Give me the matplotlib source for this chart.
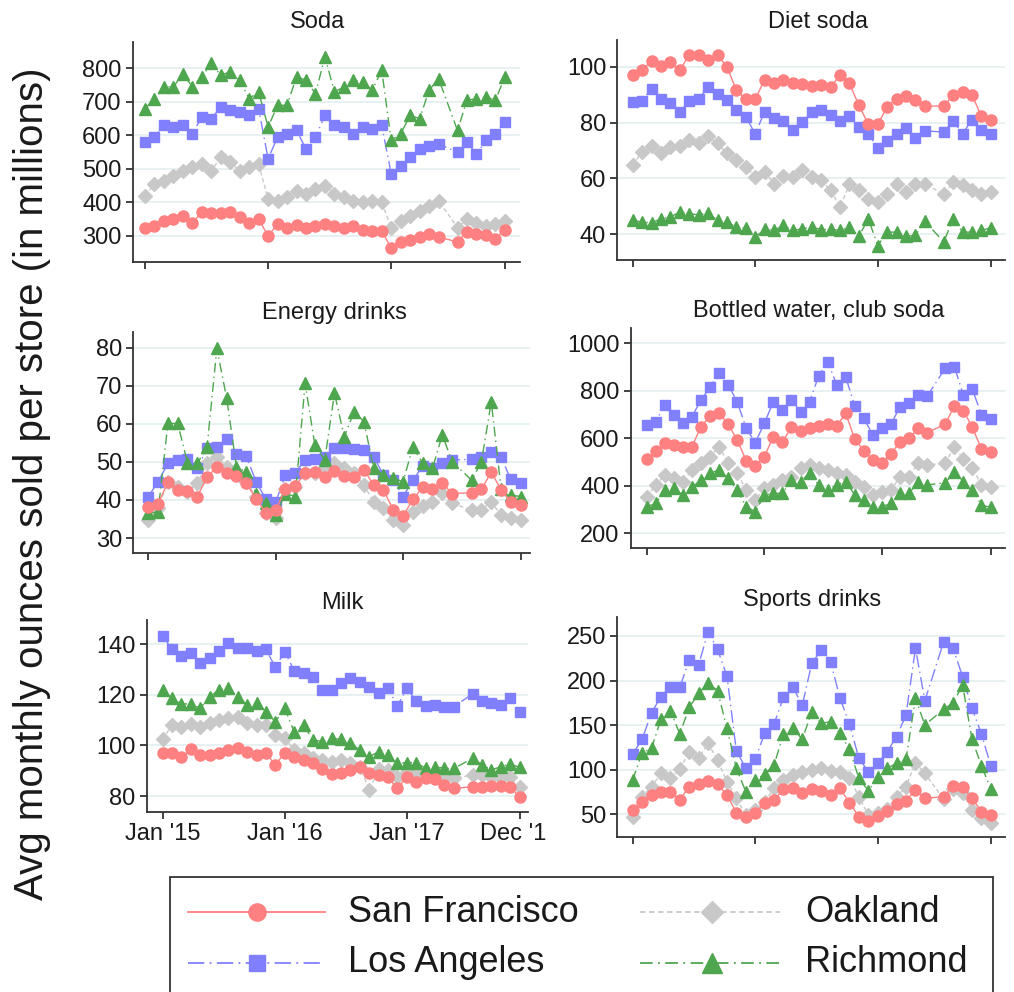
import numpy as np
import matplotlib
matplotlib.use('Agg')
import matplotlib.pyplot as plt
from matplotlib.lines import Line2D
from matplotlib.patches import Rectangle
from matplotlib.transforms import Bbox

nan = np.nan

# ---------------- data ----------------
cities = ["San Francisco", "Los Angeles", "Oakland", "Richmond"]
panel_titles = ["Soda", "Diet soda", "Energy drinks", "Bottled water, club soda", "Milk", "Sports drinks"]
tick_positions = [0, 13, 26, 38]
tick_labels = ["Jan '15", "Jan '16", "Jan '17", "Dec '17"]
periods = np.arange(39)  # 13 four-week periods per year, 2015-2017

soda_sf = [325,330,345,350,360,340,370,367,367,370,355,340,350,
           300,335,325,332,325,330,335,330,325,330,318,315,315,
           263,282,289,297,307,297,nan,282,312,307,302,292,319]
soda_la = [580,595,630,625,630,605,655,650,685,675,670,660,680,
           530,595,605,615,560,595,660,630,625,605,625,620,630,
           485,510,535,560,570,575,nan,550,580,545,585,605,640]
soda_oak = [420,455,465,480,495,505,515,495,535,520,495,505,515,
            410,405,415,435,425,440,450,425,415,405,400,405,400,
            325,345,360,375,390,405,nan,325,350,340,330,335,345]
soda_rich = [680,710,745,745,785,745,775,815,780,790,765,710,730,
             625,690,690,775,765,725,835,730,745,765,760,735,795,
             585,605,660,650,735,770,nan,615,705,710,715,705,775]

diet_sf = [97,98.8,102.2,100.2,101.8,98.8,104.2,104.2,102.6,104.2,100,91.6,88.3,
           88.3,95.4,94,95.2,94,93.7,93,93.4,92.6,97,94,86.2,79.4,
           79.4,85.6,88.6,89.5,88,85.9,nan,85.9,89.8,91,89.8,82.3,81]
diet_la = [87.4,87.8,92.2,88.6,87,83.8,87.7,88.6,92.6,90.4,88,84.4,82,
           76,83.8,81.8,80.6,77.2,80.2,83.8,84.4,82.6,80.6,82.3,78.4,75.8,
           71,73.4,76,78.2,74.3,77,nan,76.6,80.6,76,81,77.5,76]
diet_oak = [64.7,69.5,71.5,68.9,71.3,71.5,73.7,72.5,75.1,72.5,68.9,66.5,64.1,
            60.5,62.3,58.1,60.7,60.5,62.9,60.5,59.3,55.7,49.7,57.8,55.9,52.7,
            51.5,54.5,57.8,55.1,57.8,58.1,nan,54.2,58.7,57.5,55.9,54.2,55.1]
diet_rich = [44.9,44.3,44,45.5,46.1,47.9,47.3,46.9,47.5,44.9,44.3,42.5,42.2,
             38.9,41.7,41.3,43.1,41.3,41.9,42.5,41.6,41.7,41.3,42.5,39.2,45.5,
             35.9,40.7,40.7,39.2,39.5,44.6,nan,37.2,45.3,40.7,40.7,41.3,42.3]

energy_sf = [38.2,38.9,44.8,42.6,42.4,40.9,46.1,48.6,47,46.3,44.5,40.2,36.7,
             37.5,42.8,43.7,47,47.4,46.1,47.7,46.3,46.1,48,43.9,42.6,37.4,
             35.8,40.2,43.3,42.8,44.5,41.7,nan,41.9,42.8,47.4,42.6,39.5,38.7]
energy_la = [40.9,44.8,49.6,50.5,50.7,48.3,53.6,54,55.9,52.2,51.5,44.8,40.2,
             39.5,46.5,47.2,50.5,50.7,51.4,53.6,53.6,53.3,53.1,51.4,46.5,45.2,
             40.9,45.2,48.9,48.3,49.8,50.5,nan,50.7,51.4,52.7,51.2,45.4,44.4]
energy_oak = [34.7,37.8,44.8,43.5,42.2,44.4,49.6,51.4,48.7,47.4,44.8,40.9,36.5,
              35.2,43,43.5,47,47,48.3,49.6,48.3,47,43.9,39.5,37.8,34.7,
              33.4,36.9,38.4,39.5,41.9,39.1,nan,37.4,37.4,39.5,36,35.2,34.7]
energy_rich = [36.5,36.9,60.1,60.1,49.8,49.6,54,79.8,66.7,48.7,47.4,41.7,39.1,
               36,41.7,40.9,70.6,54.4,50.5,68,56.6,63.2,60.6,48.3,46.5,45.7,
               44.8,54,49.6,48.3,57.1,50.1,nan,45.2,50.1,65.8,43,41.3,40.9]

water_sf = [512,548,582,572,565,565,649,694,705,660,593,506,484,
            523,607,586,646,632,642,652,660,652,705,596,548,509,
            498,534,586,600,642,624,nan,660,736,716,646,554,544]
water_la = [656,670,740,698,663,691,761,815,876,825,754,642,582,
            663,754,719,761,712,754,862,923,825,857,736,684,614,
            642,660,733,747,782,778,nan,895,902,782,806,698,680]
water_oak = [354,404,446,432,418,467,495,523,565,495,453,382,340,
             389,404,425,439,474,488,474,467,453,446,418,394,361,
             375,382,439,439,495,488,nan,495,565,512,474,404,394]
water_rich = [312,326,382,389,361,394,425,453,467,432,382,312,291,
              361,368,368,425,418,453,404,382,404,418,361,340,312,
              312,326,368,368,418,404,nan,413,460,418,382,319,309]

milk_sf = [97.1,97.1,95.3,98.5,96.2,96.2,96.9,98.2,98.9,97.5,96.2,96.9,92.3,
           97.1,95.6,94.2,93.2,90.5,88.7,89,90.3,91.3,89,88.3,87.4,83,
           87.6,85.7,87,86.6,84.4,83,nan,83.7,83.7,84,84,83.7,79.5]
milk_la = [143.3,138,135.4,136.7,132.5,134.5,137.5,140.7,138.4,138.4,137.5,138,130.9,
           137.1,129.6,128.8,126.9,121.9,121.9,124.6,126.5,125.2,123.3,120.9,122.6,115.6,
           122.6,117.7,115.6,116,115.1,115.3,nan,120.4,117.7,116.9,116,118.6,113.4]
milk_oak = [102.4,108.1,107.4,108.5,107.4,108.7,110.1,110.7,111.4,108.7,108.1,108.1,104.1,
            102.8,98.2,96.9,94.9,94.2,93.6,94.2,92.9,91.6,82.4,90.5,90.3,87.6,
            89.6,89.2,89,88.3,87.6,87,nan,88.3,88.3,87.6,87,87.4,83.7]
milk_rich = [121.9,118.6,116.4,116.4,114.7,119.3,121.9,122.6,119.3,116,116.7,113.4,109.4,
             114.7,105.4,108.1,102.2,101.5,102.8,102.4,100.8,98.2,95.6,97.5,96.2,92.9,
             93.2,93.2,90.9,91.6,90.9,90.9,nan,94.9,92.3,90.3,91.6,92.7,91.3]

sports_sf = [54.9,64.2,71.7,75.4,75.4,66.1,81,84,87.7,84,71.7,51.9,46.7,
             51.1,63,66.1,78,79.1,74.3,78,76.5,71.7,79.1,63,47.4,43,
             48.2,54.2,61.7,65.4,77.3,67.9,nan,69.8,81.7,80.2,67.9,53,49.3]
sports_la = [117.7,134,164,182,193,192.4,223,217.5,254.9,235,205.1,121.4,101.6,
             111.7,140.8,151.3,181.2,192.4,172.6,219.3,234.3,221.2,180.1,151.3,112.8,97.9,
             107.2,120.3,137.1,161.4,236.2,177.5,nan,243.6,236.2,204.4,168.9,140.1,104.2]
sports_oak = [47.4,69.8,81,96,90.4,100.5,120.3,112.8,129.6,110.9,86.6,68,49.3,
              54.9,64.2,79.2,88.5,94.1,97.9,99.7,101.6,99,97.9,90.4,69.8,49.3,
              51.1,55.6,69.8,81,107.9,96,nan,66.8,78,73.6,54.9,45.5,40.7]
sports_rich = [88.5,119.2,124,156.5,166.3,140.1,170,185.7,197.7,188.7,146.5,101.6,75.4,
               88.5,95.2,105.3,140.1,146.5,134.1,165.1,152.1,153.9,140.8,122.9,90.4,76.5,
               91.5,101.6,107.2,111.7,180.1,150.2,nan,167.8,175.2,195,134.1,104.7,78]

soda_yticks = [300, 400, 500, 600, 700, 800]
diet_yticks = [40, 60, 80, 100]
energy_yticks = [30, 40, 50, 60, 70, 80]
water_yticks = [200, 400, 600, 800, 1000]
milk_yticks = [80, 100, 120, 140]
sports_yticks = [50, 100, 150, 200, 250]

# ---------------- layout / style ----------------
W, H = 1014, 992
plt.rcParams['font.family'] = ['Liberation Sans', 'DejaVu Sans']
fig = plt.figure(figsize=(W / 100, H / 100), dpi=100)

styles = [
    dict(color='#ff8080', marker='o', ms=8.0, ls='-', z=4),
    dict(color='#8080ff', marker='s', ms=7.5, dashes=(9, 3, 1, 3), z=2),
    dict(color='#c8c8c8', marker='D', ms=7.0, dashes=(3, 2), z=1),
    dict(color='#4ea64e', marker='^', ms=9.0, dashes=(7, 3, 1, 3), z=3),
]

# (left, right, top, bottom) px ; xlim ; ylim ; title center px
panels = [
    dict(title=panel_titles[0], data=[soda_sf, soda_la, soda_oak, soda_rich], yt=soda_yticks,
         box=(132.7, 520, 41.7, 261.7), xlim=(-1.30, 39.6), ylim=(223, 880), tpos=(318, 22)),
    dict(title=panel_titles[1], data=[diet_sf, diet_la, diet_oak, diet_rich], yt=diet_yticks,
         box=(617.3, 1005, 40, 260), xlim=(-1.63, 39.5), ylim=(30.7, 109.6), tpos=(818, 22)),
    dict(title=panel_titles[2], data=[energy_sf, energy_la, energy_oak, energy_rich], yt=energy_yticks,
         box=(133.3, 530, 331.7, 553.3), xlim=(-1.53, 38.95), ylim=(26, 84.2), tpos=(334, 313)),
    dict(title=panel_titles[3], data=[water_sf, water_la, water_oak, water_rich], yt=water_yticks,
         box=(630.7, 1005, 328.3, 548.3), xlim=(-1.77, 39.6), ylim=(137, 1063), tpos=(819, 311)),
    dict(title=panel_titles[4], data=[milk_sf, milk_la, milk_oak, milk_rich], yt=milk_yticks,
         box=(146.7, 528, 620, 811.7), xlim=(-1.7, 38.9), ylim=(73.8, 149.6), tpos=(342, 603), xlab=True),
    dict(title=panel_titles[5], data=[sports_sf, sports_la, sports_oak, sports_rich], yt=sports_yticks,
         box=(617.3, 1005, 616.7, 836.7), xlim=(-1.63, 39.5), ylim=(24.9, 271.6), tpos=(812, 600)),
]

spine_col = '#333333'
txt_col = '#1a1a1a'

for p in panels:
    L, R, T, B = p['box']
    ax = fig.add_axes([L / W, 1 - B / H, (R - L) / W, (B - T) / H])
    for k in range(4):
        st = styles[k]
        y = np.array(p['data'][k], dtype=float)
        m = ~np.isnan(y)
        kw = dict(color=st['color'], marker=st['marker'], ms=st['ms'], lw=1.0,
                  mec=st['color'], mfc=st['color'], zorder=st['z'])
        if 'dashes' in st:
            kw['dashes'] = st['dashes']
        else:
            kw['ls'] = '-'
        ax.plot(periods[m], y[m], **kw)
    ax.set_xlim(*p['xlim'])
    ax.set_ylim(*p['ylim'])
    ax.set_yticks(p['yt'])
    ax.set_xticks(tick_positions)
    if p.get('xlab'):
        ax.set_xticklabels(tick_labels)
    else:
        ax.set_xticklabels([])
    for s in ['top', 'right']:
        ax.spines[s].set_visible(False)
    for s in ['left', 'bottom']:
        ax.spines[s].set_color(spine_col)
        ax.spines[s].set_linewidth(1.3)
    ax.tick_params(axis='both', direction='out', length=5, width=1.3, color=spine_col,
                   labelsize=17, labelcolor=txt_col, pad=3)
    ax.grid(axis='y', color='#e6f0f0', lw=1.3, zorder=0)
    ax.set_axisbelow(True)
    fig.text(p['tpos'][0] / W, 1 - p['tpos'][1] / H, p['title'], ha='center', va='center',
             fontsize=17, color=txt_col)
    if p['title'] == 'Milk':
        for lbl in ax.get_xticklabels():
            lbl.set_clip_box(Bbox.from_extents(0, 0, 546, H))
            lbl.set_clip_on(True)
    if p['title'] == 'Sports drinks':
        for lbl in ax.get_yticklabels():
            lbl.set_clip_box(Bbox.from_extents(567, 0, W, H))
            lbl.set_clip_on(True)

fig.text(32 / W, 1 - 484 / H, "Avg monthly ounces sold per store (in millions)",
         rotation=90, ha='center', va='center', fontsize=29, color=txt_col)

# ---------------- legend ----------------
fig.add_artist(Rectangle((170 / W, 1 - 1010 / H), (993 - 170) / W, (1010 - 877) / H,
                         transform=fig.transFigure, fill=False, ec=spine_col, lw=1.3))
leg_pos = [(188, 325, 257, 348, 912), (188, 325, 257, 348, 963),
           (640, 780, 712, 805, 912), (640, 780, 712, 805, 963)]
for k in range(4):
    x0, x1, xm, xt, yy = leg_pos[k]
    st = styles[k]
    kw = dict(color=st['color'], lw=1.3, transform=fig.transFigure)
    if 'dashes' in st:
        kw['dashes'] = st['dashes']
    fig.add_artist(Line2D([x0 / W, x1 / W], [1 - yy / H] * 2, **kw))
    fig.add_artist(Line2D([xm / W], [1 - yy / H], marker=st['marker'], ms=st['ms'] * 1.55,
                          color=st['color'], mec=st['color'], ls='none', transform=fig.transFigure))
    fig.text(xt / W, 1 - yy / H, cities[k], ha='left', va='center', fontsize=26, color=txt_col)

fig.savefig('out.png', dpi=100)
